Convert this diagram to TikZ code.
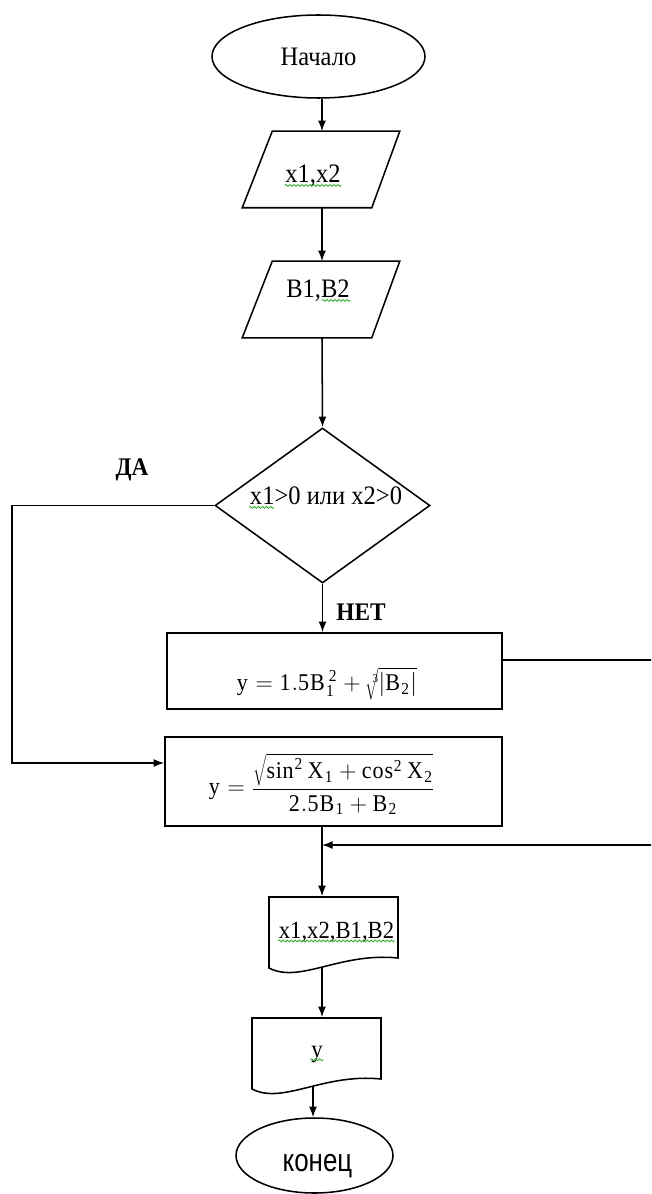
\documentclass[tikz,border=0pt]{standalone}
\usepackage{fix-cm}
\usepackage{graphicx}
\usepackage{fontspec}
\setmainfont{Liberation Serif}[FakeStretch=0.92]
\newfontfamily\sansf{Liberation Sans}[FakeStretch=0.81]
\usetikzlibrary{shapes.geometric,arrows.meta,decorations.pathmorphing}
\definecolor{squig}{RGB}{40,170,40}
\begin{document}
\begin{tikzpicture}[x=0.75pt,y=-0.75pt,line width=1.15pt,
  every node/.style={font=\fontsize{20}{24}\selectfont, inner sep=0pt},
  term/.style={ellipse,draw},
  iobox/.style={rectangle,draw=none,minimum width=117pt,minimum height=56.25pt},
  proc/.style={rectangle,draw},
  decis/.style={diamond,draw,minimum width=161.25pt,minimum height=116.25pt},
  txt/.style={draw=none},
  lbl/.style={font=\fontsize{19}{23}\selectfont\bfseries},
  fml/.style={font=\fontsize{18}{22}\selectfont},
  doctxt/.style={font=\fontsize{18.5}{22}\selectfont},
  arr/.style={-{Latex[length=8pt,width=6pt]}},
  sq/.style={draw=squig,line width=0.6pt,decorate,decoration={snake,amplitude=0.7pt,segment length=3pt}}
]
\useasboundingbox (0,0) rectangle (651,1194);
\fill[white] (0,0) rectangle (651,1194);
\clip (0,0) rectangle (651,1194);
\coordinate (axis) at (322,0);
\coordinate (axis2) at (313,0);
\coordinate (leftx) at (12,0);
\coordinate (rightx) at (660,0);

% terminals
\node[term,minimum width=159.75pt,minimum height=62.25pt] (start) at (318.5,56.5) {Начало};

% inputs (parallelograms)
\node[iobox] (p1) at (321,169.5) {};
\draw ([xshift=22.5pt]p1.north west) -- (p1.north east) -- ([xshift=-21pt]p1.south east) -- (p1.south west) -- cycle;
\node[txt] (tp1) at (313,176) {x1,x2};
\node[iobox] (p2) at (321,299.5) {};
\draw ([xshift=22.5pt]p2.north west) -- (p2.north east) -- ([xshift=-21pt]p2.south east) -- (p2.south west) -- cycle;
\node[txt] (tp2) at (318,291) {B1,B2};

% decision
\node[decis] (dec) at (322.5,505.5) {};
\node[txt] (tdec) at (326,496) {x1>0 или x2>0};
\node[lbl] (da) at (132,470) {ДА};
\node[lbl] (net) at (361,612) {НЕТ};

% processes
\node[proc,minimum width=251.25pt,minimum height=57pt] (b1) at (334.5,671) {};
\node[fml] (f1) at (327,684) {$\mathrm{y} = \mathrm{1.5B}_{\mathrm{1}}^{\,\mathrm{2}} + \sqrt[\mathrm{3}]{|\mathrm{B}_{\mathrm{2}}|}$};
\node[proc,minimum width=252.75pt,minimum height=66.75pt] (b2) at (333.5,781.5) {};
\node[fml] (f2) at (322,784) {$\displaystyle\mathrm{y} = \frac{\sqrt{\mathrm{sin}^{\mathrm{2}}\,\mathrm{X}_{\mathrm{1}}+\mathrm{cos}^{\mathrm{2}}\,\mathrm{X}_{\mathrm{2}}}}{\mathrm{2.5B}_{\mathrm{1}}+\mathrm{B}_{\mathrm{2}}}$};

% documents
\node[txt,minimum width=96.75pt,minimum height=45.75pt] (d1) at (333.5,927.5) {};
\draw (269,897) -- (398,897) -- (398,958) .. controls (340,952) and (300,984) .. coordinate[pos=0.5] (d1b) (269,968) -- cycle;
\node[txt,doctxt] (td1) at (336.5,932) {x1,x2,B1,B2};
\node[txt,minimum width=96.75pt,minimum height=45.75pt] (d2) at (316.5,1048.5) {};
\draw (252,1018) -- (381,1018) -- (381,1079) .. controls (323,1073) and (283,1105) .. coordinate[pos=0.45] (d2b) (252,1089) -- cycle;
\node[txt,doctxt] (td2) at (317,1054) {y};

% end
\node[term,minimum width=117.75pt,minimum height=56.25pt] (end) at (314.5,1155.5) {};
\node[txt] (tend) at (317.5,1166) {\sansf\fontsize{24}{28}\selectfont конец};

% connectors
\draw[arr] (start.south -| axis) -- (p1.north -| axis);
\draw[arr] (p1.south -| axis) -- (p2.north -| axis);
\draw[arr] (p2.south -| axis) -- (dec.north);
\draw[arr] (dec.south) -- (b1.north -| dec.south);
\path (b2.west) ++(0,-18.5) coordinate (b2in);
\draw[arr] (dec.west) -- (leftx |- dec.west) -- (leftx |- b2in) -- (b2in);
\path (b1.east) ++(0,-11) coordinate (b1out);
\coordinate (join) at (322,845);
\draw[arr] (b1out) -- (rightx |- b1out) -- (rightx |- join) -- (join);
\draw (b2.south -| axis) -- (join);
\draw[arr] (join) -- (d1.north -| axis);
\draw[arr] (axis |- d1b) -- (axis |- d2.north);
\draw[arr] (axis2 |- d2b) -- (axis2 |- end.north);

% spell-check squiggles
\draw[sq] ([yshift=-2pt]tp1.base west) -- ([yshift=-2pt]tp1.base east);
\draw[sq] ([xshift=-21.5pt,yshift=-2pt]tp2.base east) -- ([yshift=-2pt]tp2.base east);
\draw[sq] ([yshift=-2pt]tdec.base west) -- ([xshift=18.4pt,yshift=-2pt]tdec.base west);
\draw[sq] ([yshift=-2pt]td1.base west) -- ([yshift=-2pt]td1.base east);
\draw[sq] ([yshift=-2pt]td2.base west) -- ([yshift=-2pt]td2.base east);
\end{tikzpicture}
\end{document}
